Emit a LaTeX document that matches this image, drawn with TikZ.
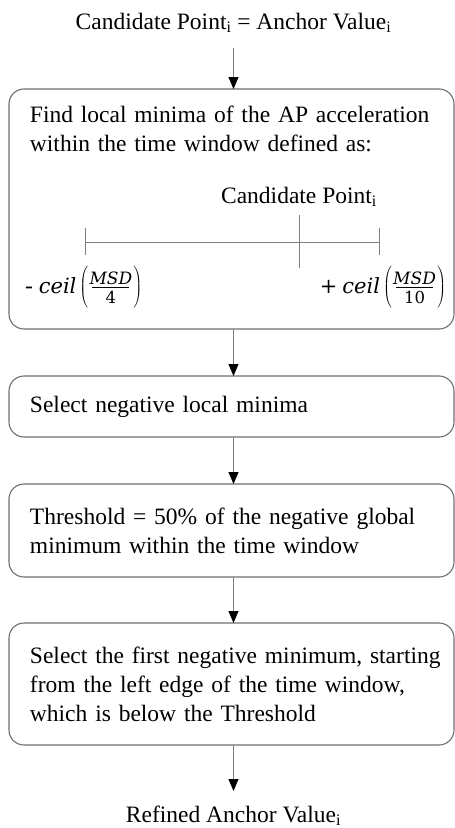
\RequirePackage{fix-cm}
\documentclass[tikz,border=0pt]{standalone}
\usepackage{fontspec}
\setmainfont{Liberation Serif}
\newfontfamily\cambrialike{DejaVu Serif}
\DeclareMathSizes{23.5}{23.5}{16}{12}
\usetikzlibrary{arrows.meta}
\definecolor{edge}{HTML}{6E6E6E}
\definecolor{link}{HTML}{808080}

% numerator over a rule over denominator, rule on the math axis
\newcommand\stackfrac[2]{\raisebox{-10pt}{\vbox{%
  \hbox to 37pt{\hss\cambrialike\itshape\fontsize{17}{17}\selectfont #1\hss}%
  \kern2pt\hrule height 0.9pt\kern3pt
  \hbox to 37pt{\hss\cambrialike\fontsize{16.5}{16.5}\selectfont #2\hss}}}}
% tall parentheses around the fraction
\newcommand\tallopen{$\delimiterfactor=1000\delimitershortfall=0pt\left(\vcenter{\hbox{\rule{0pt}{40pt}}}\right.$}
\newcommand\tallclose{$\delimiterfactor=1000\delimitershortfall=0pt\left.\vcenter{\hbox{\rule{0pt}{40pt}}}\right)$}
% ceil(MSD/#1)
\newcommand\ceilof[1]{{\cambrialike\itshape\fontsize{21}{21}\selectfont ceil}\kern3pt\tallopen\kern3pt\stackfrac{MSD}{#1}\kern3pt\tallclose}

\begin{document}
\begin{tikzpicture}[x=1pt,y=-1pt,
  every node/.style={font=\fontsize{23.5}{29}\selectfont, inner sep=0pt, outer sep=0pt},
  stage/.style={draw=edge, line width=1.1pt, rounded corners=15pt, minimum width=445pt},
  body/.style={anchor=west, text width=415pt, align=left},
  flow/.style={draw=link, line width=1pt, -{Triangle[length=12pt,width=10pt,color=black]}},
  tick/.style={draw=link, line width=1pt}]
\useasboundingbox (0,0) rectangle (455,828);

% start and end labels
\node[anchor=base] (start) at (233.5,29) {Candidate Point\textsubscript{i} = Anchor Value\textsubscript{i}};
\node[anchor=base] (end) at (233.5,822) {Refined Anchor Value\textsubscript{i}};

% step boxes
\node[stage, minimum height=240pt] (find) at (231.5,209) {};
\node[stage, minimum height=61pt] (neg) at (231.5,406.5) {};
\node[stage, minimum height=93pt] (thr) at (231.5,530.5) {};
\node[stage, minimum height=122pt] (first) at (231.5,684) {};

% box texts
\node[anchor=base west, text width=415pt, align=left] (findtxt) at (30,122)
  {Find local minima of the AP acceleration\\within the time window defined as:};
\node[body] (negtxt) at ([xshift=21pt]neg.west) {Select negative local minima};
\node[body] (thrtxt) at ([xshift=21pt]thr.west)
  {Threshold = 50\% of the negative global\\minimum within the time window};
\node[body] (firsttxt) at ([xshift=21pt]first.west)
  {Select the first negative minimum, starting\\from the left edge of the time window,\\which is below the Threshold};

% time window sketch
\coordinate (wl) at (85,242);
\coordinate (wr) at (379,242);
\coordinate (wc) at (299,242);
\draw[tick] (wl) -- (wr);
\draw[tick] ([yshift=14pt]wl) -- ([yshift=-13pt]wl);
\draw[tick] ([yshift=14pt]wr) -- ([yshift=-13pt]wr);
\draw[tick] ([yshift=27pt]wc) -- ([yshift=-26pt]wc);
\node[anchor=base] (cand) at (299,203) {Candidate Point\textsubscript{i}};
\node[anchor=base west] (lo) at (25,293) {-\kern6pt\ceilof{4}};
\node[anchor=base east] (hi) at (446,293) {{\cambrialike\fontsize{21}{21}\selectfont +}\kern5pt\ceilof{10}};

% connectors
\draw[flow] ([yshift=-19pt]start.base) -- (start.base |- find.north);
\draw[flow] (find.south -| start.base) -- (neg.north -| start.base);
\draw[flow] (neg.south -| start.base) -- (thr.north -| start.base);
\draw[flow] (thr.south -| start.base) -- (first.north -| start.base);
\draw[flow] (first.south -| start.base) -- ([yshift=31pt]end.base);
\end{tikzpicture}
\end{document}
